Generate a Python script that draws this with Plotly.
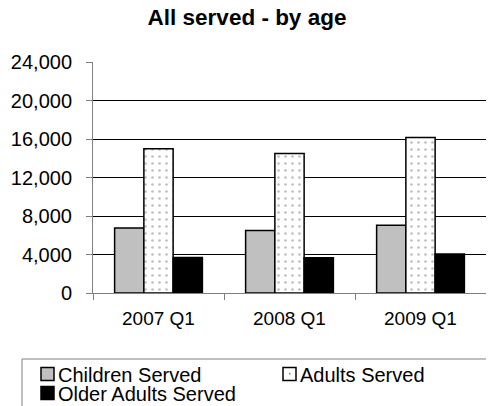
import plotly.graph_objects as go

categories = ["2007 Q1", "2008 Q1", "2009 Q1"]
series_names = ["Children Served", "Adults Served", "Older Adults Served"]
children = [6750, 6500, 7050]
adults = [15000, 14500, 16150]
older = [3700, 3650, 4050]
y_ticks = [0, 4000, 8000, 12000, 16000, 20000, 24000]
y_tick_labels = ["0", "4,000", "8,000", "12,000", "16,000", "20,000", "24,000"]

FONT = "Arial, 'Liberation Sans', sans-serif"
W, H = 494, 406
OFF = 8  # page body margin: figure starts 8px in from the window corner
# plot area in window pixels
PX0, PX1, PY0, PY1 = 93, 486, 62, 293
ML, MT = PX0 - OFF, PY0 - OFF
MR, MB = W - (PX1 - OFF), H - (PY1 - OFF)
PW, PH = PX1 - PX0, PY1 - PY0


def px_x(px):
    return (px - PX0) / PW


def px_y(py):
    return (PY1 - py) / PH


fig = go.Figure()
fig.add_bar(x=categories, y=children, name=series_names[0],
            marker=dict(color="#C0C0C0", line=dict(color="black", width=1.5)))
fig.add_bar(x=categories, y=adults, name=series_names[1],
            marker=dict(color="white", line=dict(color="black", width=1.5),
                        pattern=dict(shape=".", fgcolor="#808080", bgcolor="white",
                                     size=7, solidity=0.12)))
fig.add_bar(x=categories, y=older, name=series_names[2],
            marker=dict(color="black", line=dict(color="black", width=1.5)))

# legend drawn as a boxed key below the plot
shapes = [dict(type="rect", xref="paper", yref="paper",
               x0=px_x(22), x1=px_x(520), y0=px_y(359), y1=px_y(430),
               line=dict(color="#808080", width=1), fillcolor="white", layer="above")]
annotations = []
legend_items = [
    (series_names[0], "#C0C0C0", 41, 374),
    (series_names[1], "white", 283, 374),
    (series_names[2], "black", 41, 393),
]
for name, color, sx, cy in legend_items:
    shapes.append(dict(type="rect", xref="paper", yref="paper",
                       x0=px_x(sx), x1=px_x(sx + 13), y0=px_y(cy - 6.5), y1=px_y(cy + 6.5),
                       line=dict(color="black", width=1.5), fillcolor=color, layer="above"))
    annotations.append(dict(text=name, xref="paper", yref="paper",
                            x=px_x(sx + 15), y=px_y(cy + 1), xanchor="left", yanchor="middle",
                            showarrow=False, font=dict(size=20, family=FONT, color="black")))
# tiny dot in the dotted swatch
shapes.append(dict(type="rect", xref="paper", yref="paper",
                   x0=px_x(289), x1=px_x(290.5), y0=px_y(373), y1=px_y(374.5),
                   line=dict(width=0), fillcolor="#808080", layer="above"))

fig.update_layout(
    width=W, height=H,
    margin=dict(l=ML, r=MR, t=MT, b=MB),
    paper_bgcolor="white", plot_bgcolor="white",
    font=dict(family=FONT, size=20, color="black"),
    barmode="group", bargap=0.33, bargroupgap=0,
    title=dict(text="<b>All served - by age</b>", x=(247 - OFF) / W, xanchor="center",
               xref="container", yref="container", y=1 - (17 - OFF) / H, yanchor="middle",
               font=dict(size=22.5, family=FONT, color="black"), automargin=False),
    showlegend=False,
    shapes=shapes,
    annotations=annotations,
)
fig.update_xaxes(showline=True, linecolor="#808080", linewidth=1,
                 ticks="outside", tickson="boundaries", ticklen=6, tickcolor="#808080",
                 showgrid=False, ticklabelstandoff=8, automargin=False,
                 tickfont=dict(size=19))
fig.update_yaxes(range=[0, 24000], tickvals=y_ticks, ticktext=y_tick_labels,
                 showline=True, linecolor="#808080", linewidth=1,
                 ticks="outside", ticklen=6, tickcolor="#808080",
                 showgrid=True, gridcolor="black", gridwidth=1,
                 zeroline=False, ticklabelstandoff=10, automargin=False)

fig.write_html("out.html")
